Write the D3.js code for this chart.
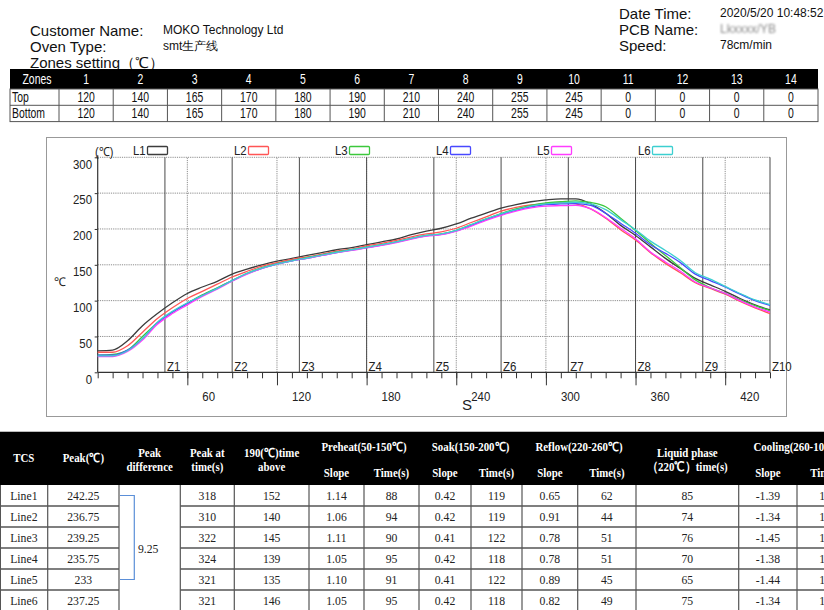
<!DOCTYPE html>
<html><head><meta charset="utf-8">
<script src="https://cdn.jsdelivr.net/npm/d3@7/dist/d3.min.js"></script>
<style>body{margin:0;background:#fff}</style>
</head><body><svg id="c" width="824" height="610" xmlns="http://www.w3.org/2000/svg"></svg>
<script>
// ---------------- DATA ----------------
const headerLeftLabels = ["Customer Name:", "Oven Type:"];
const headerLeftValues = ["MOKO Technology Ltd", "smt生产线"];
const headerRightLabels = ["Date Time:", "PCB Name:", "Speed:"];
const headerRightValues = ["2020/5/20 10:48:52", "Lkxxxx/YB", "78cm/min"];
const zonesTitle = "Zones  setting（℃）";

const zoneNumbers = ["1","2","3","4","5","6","7","8","9","10","11","12","13","14"];
const zoneTop =    [120,140,165,170,180,190,210,240,255,245,0,0,0,0];
const zoneBottom = [120,140,165,170,180,190,210,240,255,245,0,0,0,0];

const times = [0,10,20,30,40,50,60,70,80,90,100,110,120,130,140,150,160,170,180,190,200,210,220,230,240,250,260,270,280,290,300,310,320,330,340,350,360,370,380,390,400,410,420,430,440,450];
const L1 = [30,31,44,65,82,97,110,119,127,137,144,150,155,159,163,167,171,174,178,182,186,192,197,201,207,215,222,229,234,238,240.5,242,242,235,222,205,191,175,159,145,131,122,113,103,94,87];
const L2 = [28,28,37,56,75,90,103,113,123,133,141,148,153,157.5,161,165,169,172,176.5,180,184,189,193,196,201,209,217,225,230,233.5,235.5,236.75,235,228,215,199,184.5,167,152,139,125,117,109,99,90,82];
const L3 = [24,25,31,50,69,84,96,108,118,128,138,146,151.5,156,160,164,168,171,174.5,178,182,187,191,193,198,206,214,221.5,228,233,236.5,238,239.25,237,231,215,198,180,163,146,129,118,110,101,93,86];
const L4 = [24,24,31,47,69,84,96,107,117,128,137.5,145,151,155.5,159,163,167,170.5,174,177.5,181.5,186.5,190.5,192.5,197.5,205,213,220,226,231,234,235,235.5,233,222,208,194,178,166,153,137,128,119,109,100,93.5];
const L5 = [22,22,29,45,67,82,94,106,116,127,137,145,151,155.5,159,163,167,170,173.5,177,181,186,190,192,197,204,212,219,225,229.5,232,232.5,233,228,216,201,186.5,168,154,141,126,118,110,100,91,84];
const L6 = [23,23,30,47,70,85,97,107,117,128,138,145.5,151,155.5,159.5,163.5,167.5,171,174.5,178,182,187,191,193,198,206,214,221,227,232,235,236.5,237.25,235,227,213,199,183,170,156,139,130,120,110,101,94.5];
const seriesNames = ["L1","L2","L3","L4","L5","L6"];
const seriesValues = [L1,L2,L3,L4,L5,L6];
const seriesColors = ["#3c3c3c","#ff5555","#3cc83c","#4848ff","#ff3cff","#3ccfd0"];

const yTicks = [0,50,100,150,200,250,300];
const xLabelTicks = [60,120,180,240,300,360,420];
const zoneTimes = [45,90,135,180,225,270,315,360,405,450];
const zoneLabels = ["Z1","Z2","Z3","Z4","Z5","Z6","Z7","Z8","Z9","Z10"];

const tcs = ["Line1","Line2","Line3","Line4","Line5","Line6"];
const peak = ["242.25","236.75","239.25","235.75","233","237.25"];
const peakDiff = "9.25";
const peakAt = [318,310,322,324,321,321];
const above190 = [152,140,145,139,135,146];
const preheatSlope = ["1.14","1.06","1.11","1.05","1.10","1.05"];
const preheatTime = [88,94,90,95,91,95];
const soakSlope = ["0.42","0.42","0.41","0.42","0.41","0.42"];
const soakTime = [119,119,122,118,122,118];
const reflowSlope = ["0.65","0.91","0.78","0.78","0.89","0.82"];
const reflowTime = [62,44,51,51,45,49];
const liquidTime = [85,74,76,70,65,75];
const coolSlope = ["-1.39","-1.34","-1.45","-1.38","-1.44","-1.34"];
const coolTime = [103,107,100,104,101,106];

// ---------------- DRAW ----------------
const svg = d3.select("#c");
const SANS = "'Liberation Sans', Arial, sans-serif";
const SERIF = "'Liberation Serif', 'Times New Roman', serif";

svg.append("rect").attr("width",824).attr("height",610).attr("fill","#fff");
const defs = svg.append("defs");
defs.append("filter").attr("id","blur").append("feGaussianBlur").attr("stdDeviation",1.3);

function T(g, x, y, s, o = {}) {
  const t = g.append("text").text(s)
    .attr("font-family", o.ff || SANS).attr("font-size", o.fs || 12)
    .attr("font-weight", o.fw || "normal").attr("fill", o.fill || "#111")
    .attr("text-anchor", o.anchor || "start").attr("dominant-baseline", "central");
  if (o.sx) t.attr("x",0).attr("y",0).attr("transform",`translate(${x},${y}) scale(${o.sx},1)`);
  else t.attr("x",x).attr("y",y);
  return t;
}

// header
const hd = svg.append("g");
headerLeftLabels.forEach((s,i) => T(hd, 30, 30 + i*16, s, {fs:15}));
headerLeftValues.forEach((s,i) => T(hd, 163, 30 + i*16, s, {fs:12}));
T(hd, 30, 62, zonesTitle, {fs:15});
headerRightLabels.forEach((s,i) => T(hd, 619, 13 + i*16, s, {fs:15}));
headerRightValues.forEach((s,i) => {
  const t = T(hd, 720, 13 + i*16, s, {fs:12});
  if (i === 1) t.attr("filter","url(#blur)").attr("fill","#8a8a8a");
});

// zones table
const zt = svg.append("g");
const zx = d3.scaleBand().domain(zoneNumbers).range([59, 818]);
const zY0 = 69, zH = 20, zR = 16.3;
const ZF = {fs:14.5, sx:0.72};
zt.append("rect").attr("x",10).attr("y",zY0).attr("width",808).attr("height",zH).attr("fill","#000");
T(zt, 37, zY0 + zH/2, "Zones", {...ZF, fill:"#fff", anchor:"middle"});
zoneNumbers.forEach(z => T(zt, zx(z)+zx.bandwidth()/2, zY0 + zH/2, z, {...ZF, fill:"#fff", anchor:"middle"}));
const rows = [["Top", zoneTop], ["Bottom", zoneBottom]];
rows.forEach(([lab, vals], r) => {
  const y0 = zY0 + zH + r*zR;
  T(zt, 12, y0 + zR/2, lab, ZF);
  vals.forEach((v,i) => T(zt, zx(zoneNumbers[i]) + zx.bandwidth()/2, y0 + zR/2, v, {...ZF, anchor:"middle"}));
});
const zBot = zY0 + zH + 2*zR;
zt.append("rect").attr("x",10).attr("y",zY0+zH).attr("width",808).attr("height",2*zR).attr("fill","none").attr("stroke","#555");
zt.append("line").attr("x1",10).attr("x2",818).attr("y1",zY0+zH+zR).attr("y2",zY0+zH+zR).attr("stroke","#555");
[59, ...zoneNumbers.slice(1).map(z => zx(z))].forEach(x =>
  zt.append("line").attr("x1",x).attr("x2",x).attr("y1",zY0+zH).attr("y2",zBot).attr("stroke","#555"));

// chart frame
const ch = svg.append("g");
ch.append("rect").attr("x",46.5).attr("y",137.5).attr("width",740).attr("height",279).attr("fill","none").attr("stroke","#999");

const x = d3.scaleLinear().domain([0,450]).range([97.7, 770]);
const y = d3.scaleLinear().domain([0,300]).range([372.3, 157.3]);

// grid
yTicks.filter(v => v > 0).forEach(v =>
  ch.append("line").attr("x1",x(0)).attr("x2",x(450)).attr("y1",y(v)).attr("y2",y(v))
    .attr("stroke","#8c8c8c").attr("stroke-dasharray","1.2,1").attr("stroke-width",1));
xLabelTicks.forEach(v =>
  ch.append("line").attr("x1",x(v)).attr("x2",x(v)).attr("y1",y(0)).attr("y2",y(300))
    .attr("stroke","#8c8c8c").attr("stroke-dasharray","1.2,1").attr("stroke-width",1));
// zone lines
const CF = {fs:13, sx:0.88, fill:"#222"};
zoneTimes.forEach((v,i) => {
  ch.append("line").attr("x1",x(v)).attr("x2",x(v)).attr("y1",y(0)).attr("y2",y(300))
    .attr("stroke","#4a4a4a").attr("stroke-width",1);
  T(ch, x(v)+2, 367, zoneLabels[i], CF);
});

// axes
const minorAxis = d3.axisBottom(x).tickValues(d3.range(0,451,10)).tickSize(6).tickFormat("");
const majorAxis = d3.axisBottom(x).tickValues(xLabelTicks).tickSize(13).tickFormat("");
[minorAxis, majorAxis].forEach(ax => {
  const g = ch.append("g").attr("transform",`translate(0,${y(0)})`).call(ax);
  g.select(".domain").remove();
  g.selectAll("line").attr("stroke","#333");
});
const yAxis = d3.axisLeft(y).tickValues(yTicks).tickSize(3).tickFormat("");
const yg = ch.append("g").attr("transform",`translate(${x(0)},0)`).call(yAxis);
yg.select(".domain").remove();
yg.selectAll("line").attr("stroke","#333");
ch.append("line").attr("x1",x(0)).attr("x2",x(0)).attr("y1",y(300)-2).attr("y2",y(0)).attr("stroke","#333").attr("stroke-width",1.2);
ch.append("line").attr("x1",x(0)).attr("x2",x(450)).attr("y1",y(0)).attr("y2",y(0)).attr("stroke","#333").attr("stroke-width",1.2);

yTicks.forEach(v => T(ch, 92, y(v)+7, v, {...CF, anchor:"end"}));
xLabelTicks.forEach(v => T(ch, x(v)+15, 397, v, CF));
T(ch, 462, 404, "S", {fs:15, fill:"#222"});
T(ch, 60, 282, "℃", {fs:12, fill:"#222", anchor:"middle"});
T(ch, 95, 151, "(℃)", {fs:12.5, sx:0.88, fill:"#222"});

// legend
seriesNames.forEach((n,i) => {
  const lx = 133 + i*101;
  T(ch, lx, 151, n, CF);
  ch.append("rect").attr("x",lx+14.5).attr("y",146.5).attr("width",20).attr("height",8).attr("rx",1)
    .attr("fill","#fff").attr("stroke",seriesColors[i]).attr("stroke-width",1.3);
});

// lines
const line = d3.line().x((d,i) => x(times[i])).y(d => y(d)).curve(d3.curveMonotoneX);
seriesValues.forEach((vals,i) =>
  ch.append("path").attr("d", line(vals)).attr("fill","none").attr("stroke",seriesColors[i]).attr("stroke-width",1.3));

// bottom table
const bt = svg.append("g");
const colEdges = [0, 47.7, 119, 180.3, 234.3, 309, 364, 419, 471, 522, 577.7, 636, 738.7, 797, 859];
const cx = i => (colEdges[i] + colEdges[i+1]) / 2;
const hY0 = 432, hY1 = 485, rH = 21;
bt.append("rect").attr("x",0).attr("y",hY0).attr("width",824).attr("height",hY1-hY0).attr("fill","#000");
bt.append("line").attr("x1",0).attr("x2",824).attr("y1",hY0-0.5).attr("y2",hY0-0.5).attr("stroke","#bbb");
const H = {ff:SERIF, fs:12.5, fw:"bold", fill:"#fff", anchor:"middle", sx:0.87};
T(bt, cx(0), 458.5, "TCS", H);
T(bt, cx(1), 458.5, "Peak(℃)", H);
T(bt, cx(2), 453, "Peak", H); T(bt, cx(2), 467, "difference", H);
T(bt, cx(3), 453, "Peak at", H); T(bt, cx(3), 467, "time(s)", H);
T(bt, cx(4), 453, "190(℃)time", H); T(bt, cx(4), 467, "above", H);
const groups = [["Preheat(50-150℃)",5],["Soak(150-200℃)",7],["Reflow(220-260℃)",9],["Cooling(260-100℃)",12]];
groups.forEach(([s,i]) => {
  T(bt, (colEdges[i]+colEdges[i+2])/2, 447, s, H);
  T(bt, cx(i), 473, "Slope", H);
  T(bt, cx(i+1), 473, "Time(s)", H);
});
T(bt, cx(11), 453, "Liquid phase", H); T(bt, cx(11), 467, "（220℃）time(s)", H);

const D = {ff:SERIF, fs:13, fill:"#222", anchor:"middle", sx:0.9};
const dataCols = [[0,tcs],[1,peak],[3,peakAt],[4,above190],[5,preheatSlope],[6,preheatTime],[7,soakSlope],[8,soakTime],[9,reflowSlope],[10,reflowTime],[11,liquidTime],[12,coolSlope],[13,coolTime]];
tcs.forEach((_,r) => {
  const yc = hY1 + r*rH + rH/2;
  dataCols.forEach(([c,arr]) => T(bt, cx(c), yc, arr[r], D));
});
// row lines
for (let r = 1; r <= 6; r++) {
  const yy = hY1 + r*rH;
  bt.append("line").attr("x1",0).attr("x2",colEdges[2]).attr("y1",yy).attr("y2",yy).attr("stroke","#555").attr("stroke-width",1.5);
  bt.append("line").attr("x1",colEdges[3]).attr("x2",824).attr("y1",yy).attr("y2",yy).attr("stroke","#555").attr("stroke-width",1.5);
}
colEdges.slice(1,14).forEach(xx =>
  bt.append("line").attr("x1",xx).attr("x2",xx).attr("y1",hY1).attr("y2",610).attr("stroke","#555").attr("stroke-width",1.2));
bt.append("line").attr("x1",0.5).attr("x2",0.5).attr("y1",hY1).attr("y2",610).attr("stroke","#555");
// bracket
const b1 = hY1 + rH/2, b5 = hY1 + 4*rH + rH/2;
bt.append("path").attr("d", `M120,${b1}H134.3V${b5}H120`).attr("fill","none").attr("stroke","#5b8fd8").attr("stroke-width",1.2);
T(bt, 138, 549, peakDiff, {ff:SERIF, fs:13, sx:0.9, fill:"#222"});
</script></body></html>
